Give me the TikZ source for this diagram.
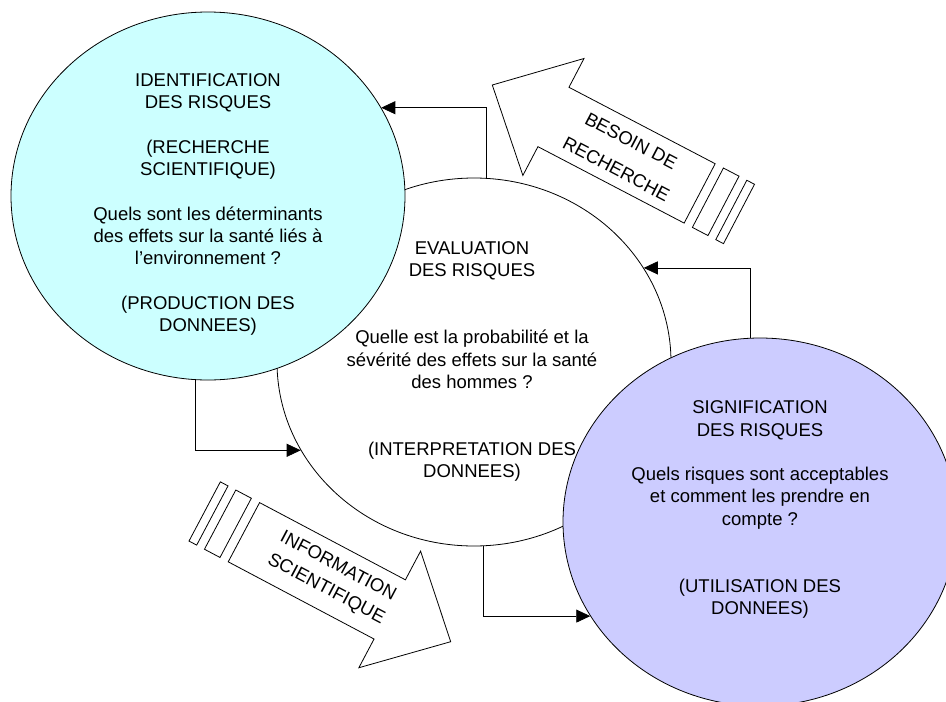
\documentclass[tikz,border=0pt]{standalone}
\usepackage{fontspec}
\setmainfont{Liberation Sans}
\usetikzlibrary{shapes.geometric,arrows.meta}
\definecolor{cyanfill}{HTML}{CCFFFF}
\definecolor{lavfill}{HTML}{CCCCFF}
\begin{document}
\begin{tikzpicture}[x=1pt,y=1pt,
  bubble/.style={ellipse, draw=black, line width=0.8pt, minimum width=394pt, minimum height=368pt, inner sep=0pt},
  txt/.style={align=center, font=\fontsize{18.5}{22.3}\selectfont, inner sep=0pt},
  conn/.style={draw=black, line width=0.8pt, -{Triangle[length=14pt,width=13pt]}},
  bigarrow/.style={draw=black, fill=white, line width=0.8pt, line join=miter}]
\useasboundingbox (0,0) rectangle (946,-702);
% circles
\node[bubble, fill=white] (c2) at (474,-362) {};
\node[bubble, fill=cyanfill] (c1) at (208,-196) {};
\node[bubble, fill=lavfill] (c3) at (760,-522) {};
% texts
\node[txt] (t1) at (208,-204.5) {IDENTIFICATION\\DES RISQUES\\[22.3pt](RECHERCHE\\SCIENTIFIQUE)\\[22.3pt]Quels sont les déterminants\\des effets sur la santé liés à\\l’environnement ?\\[22.3pt](PRODUCTION DES\\DONNEES)};
\node[txt] (t2) at (472,-361.5) {EVALUATION\\DES RISQUES\\[44.6pt]Quelle est la probabilité et la\\sévérité des effets sur la santé\\des hommes ?\\[44.6pt](INTERPRETATION DES\\DONNEES)};
\node[txt] (t3) at (760,-509.5) {SIGNIFICATION\\DES RISQUES\\[22.3pt]Quels risques sont acceptables\\et comment les prendre en\\compte ?\\[44.6pt](UTILISATION DES\\DONNEES)};
% connectors
\draw[conn] (c2.86.9) |- (c1.27.3);
\draw[conn] (c3.93.7) |- (c2.29.4);
\draw[conn] (c1.266.5) |- (c2.207);
\draw[conn] (c2.273.1) |- (c3.209.7);
% big arrow 1 (BESOIN DE RECHERCHE)
\begin{scope}[shift={(492.3,-85)}, rotate=152.4]
\draw[bigarrow] (0,0) -- (-69,66) -- (-69,33.5) -- (-234,33.5) -- (-234,-33.5) -- (-69,-33.5) -- (-69,-66) -- cycle;
\draw[bigarrow] (-243.3,33.5) rectangle (-260.9,-33.5);
\draw[bigarrow] (-269.7,33.5) rectangle (-278.4,-33.5);
\end{scope}
% big arrow 2 (INFORMATION SCIENTIFIQUE)
\begin{scope}[shift={(450.7,-641.7)}, rotate=-27.9]
\draw[bigarrow] (0,0) -- (-69,66) -- (-69,33.5) -- (-234,33.5) -- (-234,-33.5) -- (-69,-33.5) -- (-69,-66) -- cycle;
\draw[bigarrow] (-243.3,33.5) rectangle (-260.9,-33.5);
\draw[bigarrow] (-269.7,33.5) rectangle (-278.4,-33.5);
\end{scope}
\node[txt, rotate=-27.6] (a1t) at (623.7,-155) {BESOIN DE\\[9.7pt]RECHERCHE};
\node[txt, rotate=-27.9] (a2t) at (332,-578) {INFORMATION\\[3.3pt]SCIENTIFIQUE};
\end{tikzpicture}
\end{document}
